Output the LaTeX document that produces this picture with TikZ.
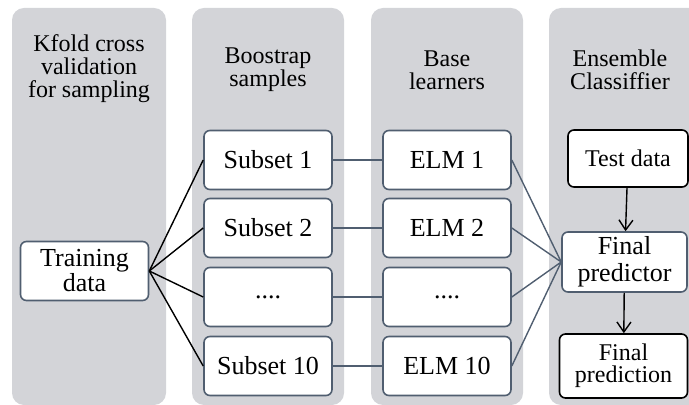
\documentclass[tikz,border=0pt]{standalone}
\usepackage{fontspec}
\setmainfont{Liberation Serif}
\usetikzlibrary{arrows.meta}
\definecolor{panel}{RGB}{211,212,216}
\definecolor{slate}{RGB}{80,94,112}
\tikzset{>={Straight Barb[length=5pt,width=7pt]}}

\begin{document}
\begin{tikzpicture}[
    x = 0.5pt, y = -0.5pt,
    align = center,
    lane/.style = {fill = panel, rounded corners = 6pt},
    head/.style = {font = \fontsize{12}{11.5}\selectfont},
    box/.style = {draw = slate, line width = 0.8pt, fill = white,
      rounded corners = 3pt, inner sep = 0pt,
      minimum width = 64pt, minimum height = 29.5pt,
      font = \fontsize{13}{12.5}\selectfont},
    link/.style = {slate, line width = 0.7pt},
    feed/.style = {black, line width = 0.7pt}
  ]
    \useasboundingbox (0,0) rectangle (689,405);
    \clip (0,0) rectangle (689,405);
    % grey lanes
    \fill[lane] (12,8) rectangle (166,405);
    \fill[lane] (192,8) rectangle (344,405);
    \fill[lane] (371,8) rectangle (523,405);
    \fill[lane] (549,8) rectangle (720,405);
    % lane titles
    \node[head] (kfold) at (89,69) {Kfold cross\\validation\\for sampling};
    \node[head] (bootstrap) at (268,70) {Boostrap\\samples};
    \node[head] (base) at (447,70) {Base\\learners};
    \node[head] (ensemble) at (620,70) {Ensemble\\Classiffier};
    % boxes
    \node[box, font = \fontsize{13}{12.5}\selectfont] (training) at (84.5,271) {Training\\data};
    \node[box] (subset1) at (268,160) {Subset 1};
    \node[box] (subset2) at (268,228) {Subset 2};
    \node[box] (subset_dots) at (268,297) {....};
    \node[box] (subset10) at (268,366) {Subset 10};
    \node[box] (elm1) at (447,160) {ELM 1};
    \node[box] (elm2) at (447,228) {ELM 2};
    \node[box] (elm_dots) at (447,297) {....};
    \node[box] (elm10) at (447,366) {ELM 10};
    \node[box, draw = black, minimum width = 60pt, minimum height = 28.5pt,
      font = \fontsize{12}{11}\selectfont] (test_data) at (628,158.5) {Test data};
    \node[box, minimum width = 62.5pt, minimum height = 30pt,
      font = \fontsize{13}{13.5}\selectfont] (final_predictor) at (624.5,262) {Final\\predictor};
    \node[box, draw = black, minimum height = 32pt,
      font = \fontsize{12}{11}\selectfont] (final_prediction) at (623.5,366) {Final\\prediction};
    % connectors
    \draw[feed] (training.east) -- (subset1.west);
    \draw[feed] (training.east) -- (subset2.west);
    \draw[feed] (training.east) -- (subset_dots.west);
    \draw[feed] (training.east) -- (subset10.west);
    \draw[link] (subset1) -- (elm1);
    \draw[link] (subset2) -- (elm2);
    \draw[link] (subset_dots) -- (elm_dots);
    \draw[link] (subset10) -- (elm10);
    \draw[link] (elm1.east) -- (final_predictor.west);
    \draw[link] (elm2.east) -- (final_predictor.west);
    \draw[link] (elm_dots.east) -- (final_predictor.west);
    \draw[link] (elm10.east) -- (final_predictor.west);
    \draw[feed, ->] (test_data) -- (final_predictor);
    \draw[feed, ->] (final_predictor) -- (final_prediction);
  \end{tikzpicture}
\end{document}
